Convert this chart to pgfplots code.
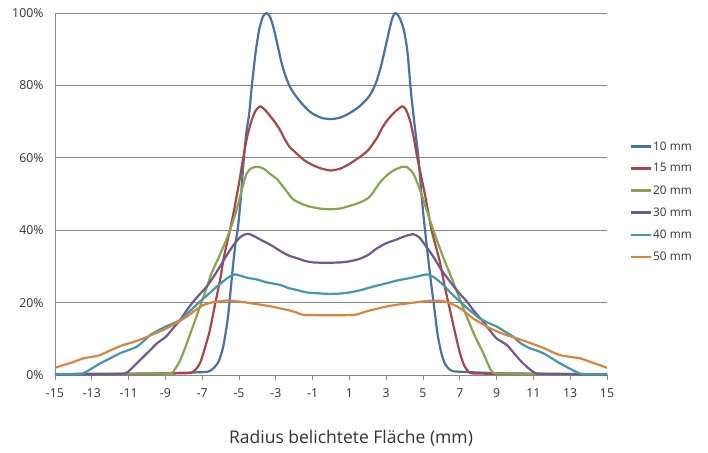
\documentclass[border=0pt]{standalone}
\usepackage{pgfplots}
\pgfplotsset{compat=1.18}
\usepackage{fontspec}
\setmainfont{Open Sans}

\definecolor{c10}{HTML}{4572A7}
\definecolor{c15}{HTML}{AA4643}
\definecolor{c20}{HTML}{89A54E}
\definecolor{c30}{HTML}{71588F}
\definecolor{c40}{HTML}{4198AF}
\definecolor{c50}{HTML}{DB843D}
\definecolor{gridgray}{HTML}{888888}
\definecolor{txt}{HTML}{333333}

\begin{document}
\begin{tikzpicture}
\path[use as bounding box] (-55pt,-77pt) rectangle (653pt,375pt);
\begin{axis}[
    at={(0,0)}, anchor=south west,
    scale only axis, width=552pt, height=362pt,
    xmin=-15, xmax=15, ymin=0, ymax=100,
    xtick={-15,-13,...,15},
    ytick={0,20,...,100},
    yticklabel={\pgfmathprintnumber{\tick}\%},
    /pgf/number format/assume math mode=true,
    axis lines*=left,
    axis line style={gridgray, line width=0.8pt},
    ymajorgrids,
    grid style={gridgray, line width=0.7pt},
    tick align=outside,
    xtick style={gridgray, line width=0.7pt},
    major tick length=5pt,
    ytick style={draw=none},
    ticklabel style={font=\fontsize{12.3}{14}\selectfont, text=txt},
    xticklabel style={yshift=-5pt},
    yticklabel style={xshift=-3pt},
    xlabel={Radius belichtete Fläche (mm)},
    xlabel style={at={(axis description cs:0.5,0)}, anchor=center, yshift=-63pt, xshift=20pt,
                  font=\fontsize{17.5}{20}\selectfont, text=txt},
    every axis plot/.append style={line width=2.2pt, no markers, smooth, tension=0.4},
    legend style={at={(rel axis cs:1.0417,0.479)}, anchor=west, draw=none, fill=none,
                  inner sep=0pt, outer sep=0pt, row sep=8pt,
                  font=\fontsize{11.8}{13}\selectfont, text=txt,
                  nodes={inner xsep=1pt}},
    legend cell align=left,
    legend image code/.code={\draw[#1, line width=2.2pt, sharp plot] (0pt,0pt) -- (20pt,0pt);},
]
% 10 mm
\addplot[c10] coordinates {
(-15,0.2) (-12,0.3) (-9,0.5) (-7.5,0.7) (-6.7,0.9) (-6.4,1.8) (-6.1,3.8) (-5.85,8)
(-5.6,16) (-5.35,29) (-5.2,36) (-5.05,41) (-4.9,49) (-4.75,59) (-4.6,67) (-4.45,72)
(-4.3,80) (-4.1,89) (-3.9,95.5) (-3.7,99) (-3.5,100) (-3.3,98.8) (-3.1,95.5) (-2.9,91)
(-2.7,86.5) (-2.5,83) (-2.25,79.8) (-2,77.7) (-1.75,76) (-1.5,74.5) (-1.25,73.2) (-1,72.2)
(-0.5,71) (0,70.7) (0.5,71.1) (1,72.3) (1.5,74) (2,76.5) (2.25,78.5) (2.5,81.5)
(2.75,86) (3,91.5) (3.2,96) (3.35,98.8) (3.5,100) (3.7,99) (3.95,95.5) (4.15,89.5)
(4.35,78) (4.5,71) (4.75,60) (4.95,48) (5.11,40) (5.29,31.8) (5.45,25) (5.6,19)
(5.8,11) (6,6) (6.2,3) (6.45,1.5) (6.7,1) (7.5,0.8) (9,0.5) (12,0.3) (15,0.2)
};
\addlegendentry{10 mm}
% 15 mm
\addplot[c15] coordinates {
(-15,0.2) (-10,0.3) (-8,0.5) (-7.6,0.6) (-7.35,1.5) (-7.1,3.5) (-6.85,7.5) (-6.6,12)
(-6.4,17) (-6.2,22) (-6,27) (-5.85,31.8) (-5.65,36.5) (-5.49,40) (-5.25,46) (-5,53)
(-4.77,60) (-4.55,66) (-4.31,70.4) (-4.1,73) (-3.85,74.2) (-3.6,73.3) (-3.3,71.5) (-3,69.5)
(-2.75,67.5) (-2.5,65) (-2.25,63) (-2,61.8) (-1.5,59.5) (-1,58) (-0.5,57) (0,56.5)
(0.5,57) (1,58.3) (1.5,60) (2,62) (2.5,65.5) (2.75,68) (3,70) (3.25,71.5)
(3.5,72.8) (3.85,74.2) (4.05,73.5) (4.29,70.4) (4.5,65.5) (4.69,60) (5.1,50) (5.47,40)
(5.89,31.8) (6.2,24) (6.47,17.9) (6.75,11.5) (7.01,6) (7.25,2.5) (7.55,0.6) (8,0.4)
(10,0.3) (15,0.2)
};
\addlegendentry{15 mm}
% 20 mm
\addplot[c20] coordinates {
(-15,0.3) (-10,0.4) (-8.7,0.5) (-8.5,1.5) (-8.25,3.5) (-8,6.5) (-7.75,10) (-7.5,13.5)
(-7.12,18.9) (-6.8,23.5) (-6.5,28) (-6.1,32.5) (-5.8,36) (-5.49,40) (-5.13,45.6) (-4.85,51.1)
(-4.58,55.7) (-4.3,57.2) (-3.95,57.5) (-3.6,56.8) (-3.3,55.5) (-2.95,54.2) (-2.6,52) (-2.3,50)
(-2.06,48.5) (-1.6,47.3) (-1.14,46.5) (-0.5,45.9) (0,45.8) (0.5,46) (1,46.7) (1.5,47.5)
(2,48.8) (2.3,50.5) (2.6,52.8) (3,55) (3.4,56.5) (3.8,57.4) (4.1,57.5) (4.47,55.7)
(4.84,51.1) (5.2,45.6) (5.56,40) (6.1,32.5) (6.5,27.5) (7,21) (7.38,16.1) (7.8,11)
(8.28,6) (8.55,2.8) (8.82,0.6) (9.5,0.4) (12,0.3) (15,0.3)
};
\addlegendentry{20 mm}
% 30 mm
\addplot[c30] coordinates {
(-15,0.2) (-12,0.2) (-11.2,0.4) (-10.9,1.5) (-10.6,3) (-10.2,5) (-9.8,7) (-9.47,8.7)
(-9.2,9.7) (-8.93,10.8) (-8.6,12.8) (-8.2,15.2) (-7.85,17.8) (-7.48,20.3) (-7.1,22.5) (-6.76,24.4)
(-6.4,27) (-6.03,30) (-5.65,33.2) (-5.3,35.9) (-4.95,38) (-4.7,38.8) (-4.49,39) (-4.2,38.4)
(-3.8,37.3) (-3.3,36) (-2.77,34.3) (-2.3,33) (-1.87,32.3) (-1.4,31.5) (-0.96,31.1) (-0.23,31)
(0.5,31.1) (1,31.4) (1.5,32) (2,33.1) (2.5,35) (3,36.4) (3.5,37.3) (4,38.3)
(4.47,38.9) (4.8,38) (5.1,36) (5.56,32.7) (6,29) (6.47,25.8) (6.9,23) (7.38,20.3)
(7.8,17.5) (8.28,14.7) (8.65,12.2) (9,10.1) (9.55,8.3) (9.9,6.3) (10.27,4.1) (10.7,2)
(11.09,0.6) (11.5,0.3) (15,0.2)
};
\addlegendentry{30 mm}
% 40 mm
\addplot[c40] coordinates {
(-15,0.2) (-14,0.2) (-13.46,0.5) (-13,1.8) (-12.55,3.2) (-12,4.6) (-11.47,6) (-11,6.9)
(-10.56,7.8) (-10.2,9.3) (-9.84,11) (-9.4,12.3) (-8.93,13.5) (-8.55,14.3) (-8.2,15.2) (-7.7,17.5)
(-7.12,20.3) (-6.65,22.4) (-6.21,24.4) (-5.75,26.3) (-5.4,27.5) (-5.22,27.8) (-4.9,27.4) (-4.5,26.8)
(-4.04,26.4) (-3.5,25.6) (-2.77,24.9) (-2.3,24) (-1.87,23.5) (-1.3,22.8) (-0.5,22.5) (0,22.4)
(0.5,22.5) (1,22.8) (1.5,23.3) (2,24) (2.5,24.7) (3,25.3) (3.5,26) (4,26.5)
(4.5,27) (5,27.6) (5.29,27.8) (5.6,27) (6.1,24.9) (6.5,22.7) (7.01,20.3) (7.5,18)
(8.1,15.6) (8.5,14.5) (9,13.4) (9.45,12) (9.9,10.6) (10.3,8.8) (10.8,7.4) (11.2,6.7)
(11.54,6) (12,4.6) (12.45,3.2) (13,1.7) (13.53,0.4) (14,0.2) (15,0.2)
};
\addlegendentry{40 mm}
% 50 mm
\addplot[c50] coordinates {
(-15,2) (-14.5,2.8) (-14,3.6) (-13.46,4.6) (-13,5) (-12.55,5.5) (-12,6.8) (-11.29,8.3)
(-10.8,9) (-10.2,10.1) (-9.6,11.4) (-8.93,12.9) (-8.4,14.4) (-7.84,16.1) (-7.4,17.8) (-6.94,19.3)
(-6.5,20) (-6,20.4) (-5.6,20.6) (-5.2,20.4) (-4.7,20.1) (-4.2,19.7) (-3.68,19.3) (-3.2,18.9)
(-2.77,18.4) (-2.3,17.9) (-1.9,17.3) (-1.6,16.7) (-1.3,16.6) (-0.5,16.5) (0.5,16.5) (1.2,16.6)
(1.4,16.7) (1.94,17.6) (2.5,18.3) (3,18.9) (3.57,19.4) (4.2,19.8) (4.8,20.2) (5.38,20.5)
(5.92,20.5) (6.3,20.1) (6.83,19) (7.3,17.4) (7.73,15.6) (8.2,14.2) (8.64,12.9) (9.1,11.9)
(9.55,11) (10.1,10.1) (10.64,9.2) (11.1,8.3) (11.54,7.5) (12,6.4) (12.45,5.5) (13,5)
(13.53,4.6) (14,3.8) (14.5,2.9) (15,2)
};
\addlegendentry{50 mm}
\end{axis}
\end{tikzpicture}
\end{document}
